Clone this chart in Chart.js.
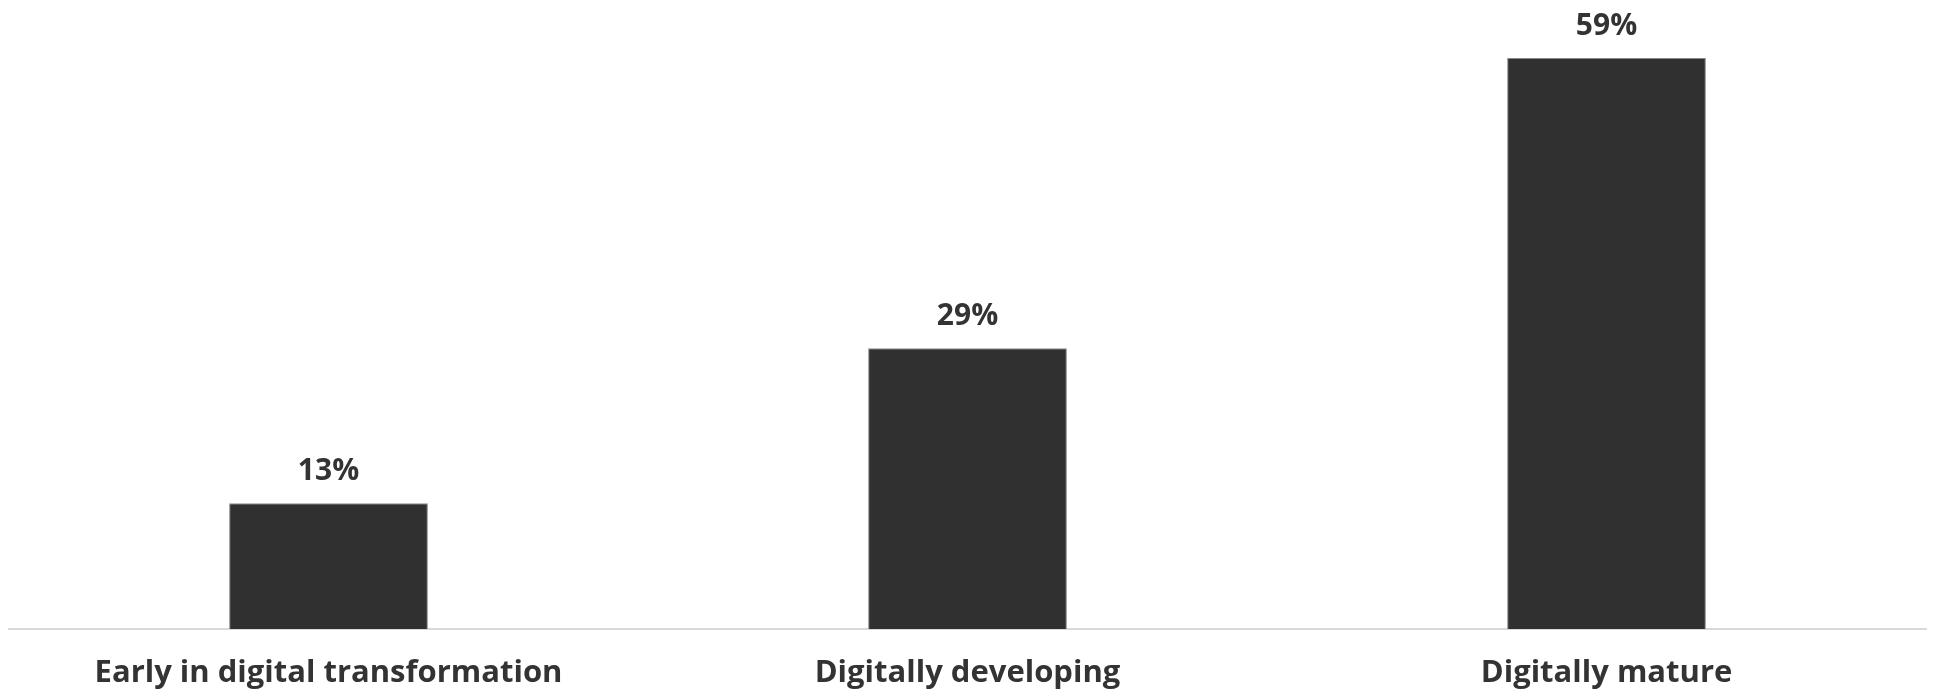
<!DOCTYPE html>
<html lang="en">
<head>
    <meta charset="UTF-8">
    <title>Digital maturity</title>
    <script src="https://cdn.jsdelivr.net/npm/chart.js"></script>
    <style>
        body { margin: 0; background: #fff; }
    </style>
</head>
<body>
    <canvas id="myChart" width="1933" height="695"></canvas>

    <script>
        // dados do gráfico
        const categories = ['Early in digital transformation', 'Digitally developing', 'Digitally mature'];
        const values = [13, 29, 59];

        // desenha o rótulo de valor acima de cada barra
        const valueLabels = {
            id: 'valueLabels',
            afterDatasetsDraw(chart) {
                const ctx = chart.ctx;
                const meta = chart.getDatasetMeta(0);
                ctx.save();
                ctx.fillStyle = '#333333';
                ctx.font = 'bold 30px "Open Sans"';
                ctx.textAlign = 'center';
                ctx.textBaseline = 'alphabetic';
                meta.data.forEach((bar, i) => {
                    ctx.fillText(values[i] + '%', bar.x, bar.y - 23);
                });
                ctx.restore();
            }
        };

        const ctx = document.getElementById('myChart').getContext('2d');
        const myChart = new Chart(ctx, {
            type: 'bar',
            data: {
                labels: categories,
                datasets: [{
                    data: values,
                    backgroundColor: '#303030',
                    borderColor: '#8a8a8a',
                    borderWidth: 1,
                    barPercentage: 0.311,
                    categoryPercentage: 1
                }]
            },
            options: {
                responsive: false,
                animation: false,
                layout: { padding: { left: 9, right: 7, top: 0, bottom: 0 } },
                plugins: {
                    legend: { display: false },
                    tooltip: { enabled: false }
                },
                scales: {
                    x: {
                        grid: { display: false, drawTicks: false },
                        border: { color: '#d9d9d9', width: 2 },
                        ticks: {
                            color: '#333333',
                            font: { family: 'Open Sans', weight: 'bold', size: 31 },
                            padding: 26,
                            maxRotation: 0
                        },
                        afterFit(scale) { scale.height = 66; }
                    },
                    y: {
                        display: false,
                        beginAtZero: true,
                        min: 0,
                        max: 65
                    }
                }
            },
            plugins: [valueLabels]
        });
    </script>
</body>
</html>
